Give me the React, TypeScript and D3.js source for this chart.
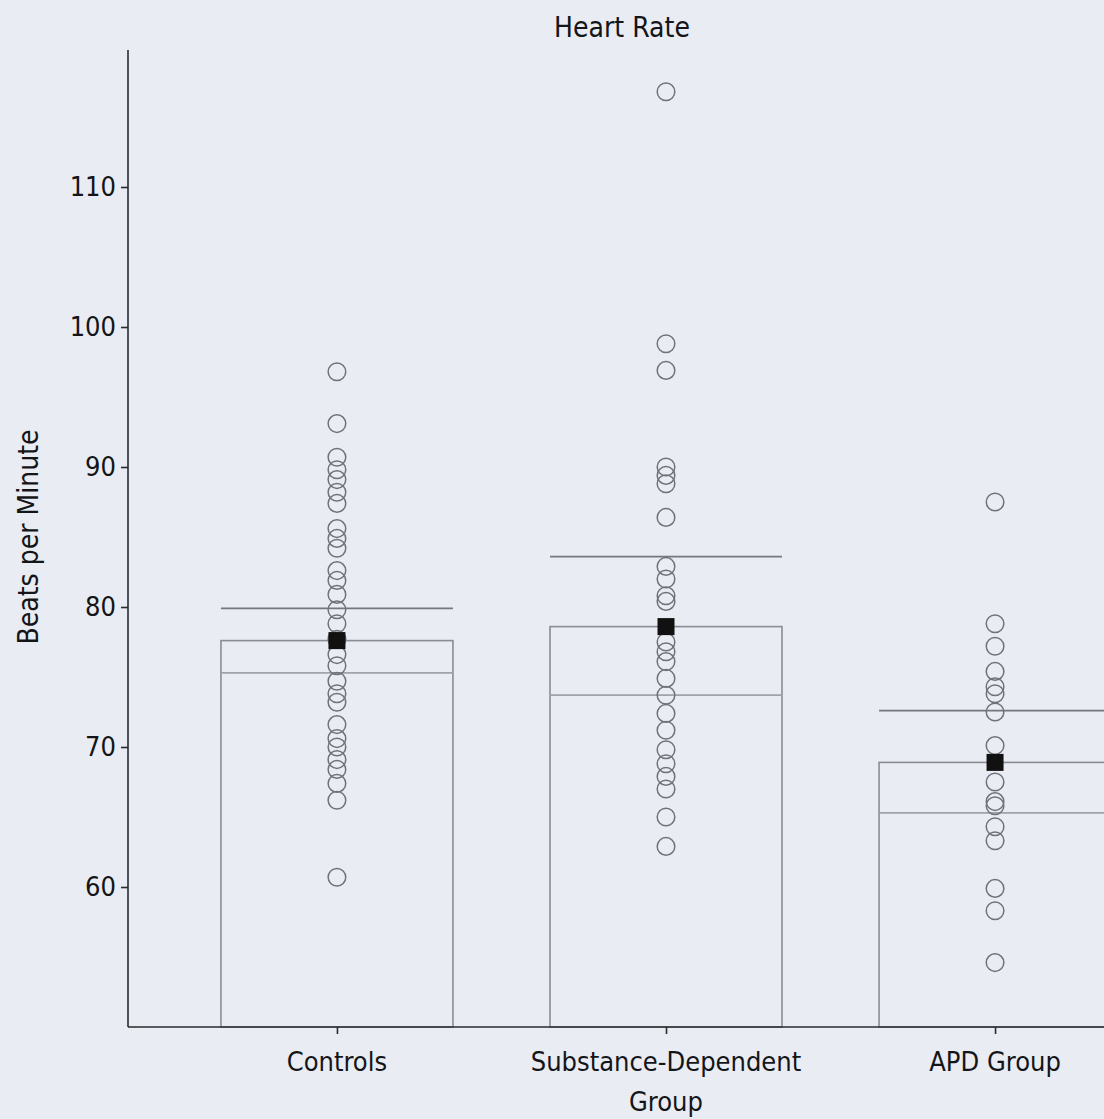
import React, { useEffect, useRef } from 'react';
import * as d3 from 'd3';

const groups = ['Controls', 'Substance-Dependent Group', 'APD Group'];
const groupLabels = [['Controls'], ['Substance-Dependent', 'Group'], ['APD Group']];
const means = [77.6, 78.6, 68.9];
const upperLine = [79.9, 83.6, 72.6];
const lowerLine = [75.3, 73.7, 65.3];

const controls = [
  96.8, 93.1, 90.7, 89.8, 89.1, 88.2, 87.4, 85.6, 84.9, 84.2, 82.6, 81.9, 80.9, 79.8, 78.8,
  77.7, 76.6, 75.8, 74.7, 73.8, 73.2, 71.6, 70.6, 70.0, 69.1, 68.4, 67.4, 66.2, 60.7,
];
const substance = [
  116.8, 98.8, 96.9, 90.0, 89.4, 88.8, 86.4, 82.9, 82.0, 80.8, 80.4, 77.5, 76.8, 76.1, 74.9,
  73.7, 72.4, 71.2, 69.8, 68.8, 67.9, 67.0, 65.0, 62.9,
];
const apd = [
  87.5, 78.8, 77.2, 75.4, 74.3, 73.8, 72.5, 70.1, 67.5, 66.1, 65.8, 64.3, 63.3, 59.9, 58.3, 54.6,
];
const yTicks = [60, 70, 80, 90, 100, 110];

const font = '"Liberation Sans Narrow", "DejaVu Sans Condensed", "Roboto", sans-serif';

const App = () => {
  const ref = useRef<SVGSVGElement | null>(null);

  useEffect(() => {
    const width = 1104;
    const height = 1119;
    const left = 128;
    const bottom = 1027;

    const svg = d3.select(ref.current);
    svg.selectAll('*').remove();

    svg.append('rect').attr('width', width).attr('height', height).attr('fill', '#e9ecf3');

    const x = d3.scalePoint().domain(groups).range([left, 1204]).padding(0.635);
    const y = d3.scaleLinear().domain([50, 120]).range([bottom, 47]);
    const barW = x.step() * 0.705;

    const points = [controls, substance, apd];

    // bars
    svg
      .selectAll('rect.bar')
      .data(groups)
      .enter()
      .append('rect')
      .attr('class', 'bar')
      .attr('x', (d) => (x(d) as number) - barW / 2)
      .attr('y', (d, i) => y(means[i]))
      .attr('width', barW)
      .attr('height', (d, i) => bottom - y(means[i]))
      .attr('fill', 'none')
      .attr('stroke', '#8a8d94')
      .attr('stroke-width', 1.6);

    // error lines
    const lines = [
      { vals: upperLine, color: '#74777e' },
      { vals: lowerLine, color: '#a0a3aa' },
    ];
    lines.forEach((l) => {
      svg
        .append('g')
        .selectAll('line')
        .data(groups)
        .enter()
        .append('line')
        .attr('x1', (d) => (x(d) as number) - barW / 2)
        .attr('x2', (d) => (x(d) as number) + barW / 2)
        .attr('y1', (d, i) => y(l.vals[i]))
        .attr('y2', (d, i) => y(l.vals[i]))
        .attr('stroke', l.color)
        .attr('stroke-width', 1.8);
    });

    // individual points
    points.forEach((vals, gi) => {
      svg
        .append('g')
        .selectAll('circle')
        .data(vals)
        .enter()
        .append('circle')
        .attr('cx', x(groups[gi]) as number)
        .attr('cy', (d) => y(d))
        .attr('r', 8.8)
        .attr('fill', 'none')
        .attr('stroke', '#6f727a')
        .attr('stroke-width', 1.5);
    });

    // mean squares
    svg
      .selectAll('rect.mean')
      .data(groups)
      .enter()
      .append('rect')
      .attr('class', 'mean')
      .attr('x', (d) => (x(d) as number) - 8.5)
      .attr('y', (d, i) => y(means[i]) - 8.5)
      .attr('width', 17)
      .attr('height', 17)
      .attr('fill', '#111');

    // y axis
    const yAxis = svg
      .append('g')
      .attr('transform', `translate(${left},0)`)
      .call(d3.axisLeft(y).tickValues(yTicks).tickSize(7).tickPadding(5));
    yAxis.select('.domain').attr('d', `M0,${y(120) + 3}V${bottom}`).attr('stroke', '#2a2b2e').attr('stroke-width', 1.6);
    yAxis.selectAll('.tick line').attr('stroke', '#2a2b2e').attr('stroke-width', 1.6);
    yAxis
      .selectAll('.tick text')
      .attr('font-family', font)
      .attr('font-size', 27)
      .attr('fill', '#141518');

    // x axis
    const xAxis = svg
      .append('g')
      .attr('transform', `translate(0,${bottom})`)
      .call(d3.axisBottom(x).tickSize(7).tickFormat(() => ''));
    xAxis.select('.domain').attr('d', `M${left},0H${width}`).attr('stroke', '#2a2b2e').attr('stroke-width', 1.6);
    xAxis.selectAll('.tick line').attr('stroke', '#2a2b2e').attr('stroke-width', 1.6);

    groups.forEach((g, i) => {
      const t = svg
        .append('text')
        .attr('x', x(g) as number)
        .attr('y', 1071)
        .attr('text-anchor', 'middle')
        .attr('font-family', font)
        .attr('font-size', 27)
        .attr('fill', '#141518');
      groupLabels[i].forEach((s, k) => {
        t.append('tspan')
          .attr('x', x(g) as number)
          .attr('dy', k === 0 ? 0 : 40)
          .text(s);
      });
    });

    // title
    svg
      .append('text')
      .attr('x', 622)
      .attr('y', 37)
      .attr('text-anchor', 'middle')
      .attr('font-family', font)
      .attr('font-size', 28)
      .attr('fill', '#141518')
      .text('Heart Rate');

    // y label
    svg
      .append('text')
      .attr('transform', `translate(38,${537}) rotate(-90)`)
      .attr('text-anchor', 'middle')
      .attr('font-family', font)
      .attr('font-size', 28)
      .attr('fill', '#141518')
      .text('Beats per Minute');
  }, []);

  return (
    <svg
      ref={ref}
      width={1104}
      height={1119}
      style={{ position: 'absolute', top: 0, left: 0, display: 'block' }}
    />
  );
};

export default App;
